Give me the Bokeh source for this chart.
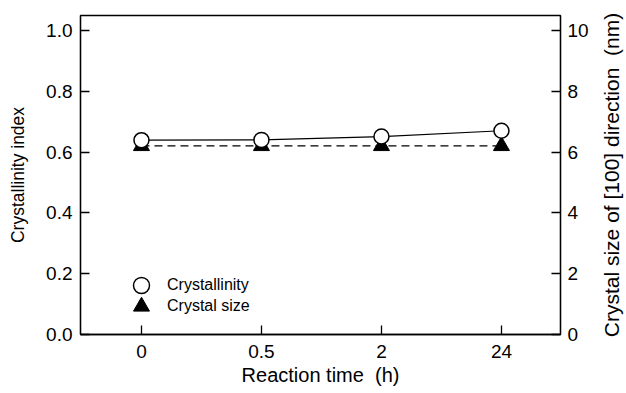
from bokeh.plotting import figure
from bokeh.layouts import row
from bokeh.models import (Range1d, LinearAxis, FixedTicker, Legend, LegendItem)
from bokeh.embed import file_html
from bokeh.resources import INLINE

times = ["0", "0.5", "2", "24"]
crystallinity = [0.639, 0.640, 0.651, 0.670]
crystal_size = [6.2, 6.2, 6.2, 6.2]
y_ticks = [0.0, 0.2, 0.4, 0.6, 0.8, 1.0]
y2_ticks = [0, 2, 4, 6, 8, 10]

xi = list(range(len(times)))
FONT = "Liberation Sans"

p = figure(width=596, height=393, output_backend="svg", toolbar_location=None,
           x_range=Range1d(-0.508, 3.492), y_range=Range1d(0, 1.049),
           min_border_left=80, min_border_right=36, min_border_top=15, min_border_bottom=59)
p.extra_y_ranges = {"size": Range1d(0, 10.49)}
p.grid.visible = False
p.outline_line_color = "black"
p.outline_line_width = 1.3
p.background_fill_color = "white"
p.border_fill_color = "white"

# crystal size (right axis)
p.line(xi, crystal_size, y_range_name="size", line_color="black", line_width=1.2, line_dash="8 5")
r_tri = p.scatter(xi, crystal_size, y_range_name="size", marker="triangle", size=16,
                  fill_color="black", line_color="black", line_width=1)
# crystallinity
p.line(xi, crystallinity, line_color="black", line_width=1.2)
r_circ = p.scatter(xi, crystallinity, marker="circle", size=15, fill_color="white",
                   line_color="black", line_width=1.5)

def style(ax, label_size):
    ax.axis_line_color = "black"
    ax.axis_line_width = 1.3
    ax.major_tick_line_color = "black"
    ax.major_tick_line_width = 1.3
    ax.major_tick_in = 9
    ax.major_tick_out = 0
    ax.minor_tick_line_color = None
    ax.major_label_text_font = FONT
    ax.major_label_text_font_size = "19px"
    ax.major_label_text_color = "black"
    ax.axis_label_text_font = FONT
    ax.axis_label_text_font_style = "normal"
    ax.axis_label_text_font_size = label_size
    ax.axis_label_text_color = "black"

xa = p.xaxis[0]
xa.ticker = FixedTicker(ticks=xi)
xa.major_label_overrides = {i: t for i, t in enumerate(times)}
xa.axis_label = "Reaction time\u00a0 (h)"
style(xa, "20px")
xa.major_label_standoff = 10
xa.axis_label_standoff = 3

ya = p.yaxis[0]
ya.ticker = FixedTicker(ticks=y_ticks)
ya.axis_label = "Crystallinity index"
ya.major_label_overrides = {v: f"{v:.1f}" for v in y_ticks}
style(ya, "17.5px")
ya.major_label_standoff = 8
ya.axis_label_standoff = 15

ra = LinearAxis(y_range_name="size", ticker=FixedTicker(ticks=y2_ticks))
style(ra, "20px")
ra.major_label_standoff = 7
p.add_layout(ra, "right")

common = dict(padding=0, margin=0, spacing=0, glyph_width=40, glyph_height=40,
              label_height=40, label_standoff=6, border_line_color=None,
              background_fill_alpha=0, label_text_font=FONT, label_text_font_size="16px",
              label_text_color="black")
leg1 = Legend(items=[LegendItem(label="Crystallinity", renderers=[r_circ])],
              location=(41, 29), **common)
leg2 = Legend(items=[LegendItem(label="Crystal size", renderers=[r_tri])],
              location=(41, 8), **common)
p.add_layout(leg1)
p.add_layout(leg2)

# narrow companion figure carrying the right-hand axis title (reads bottom-to-top)
p2 = figure(width=30, height=393, output_backend="svg", toolbar_location=None,
            x_range=Range1d(0, 1), y_range=Range1d(0, 1),
            min_border_left=0, min_border_right=0, min_border_top=15, min_border_bottom=59)
p2.grid.visible = False
p2.xaxis.visible = False
p2.outline_line_color = None
p2.background_fill_color = "white"
p2.border_fill_color = "white"
a2 = p2.yaxis[0]
a2.ticker = FixedTicker(ticks=[])
a2.axis_line_color = None
a2.major_tick_line_color = None
a2.minor_tick_line_color = None
a2.major_tick_in = 0
a2.major_tick_out = 0
a2.major_label_text_font_size = "1px"
a2.major_label_standoff = 0
a2.axis_label = "Crystal size of [100] direction\u00a0 (nm)"
a2.axis_label_standoff = 0
a2.axis_label_text_font = FONT
a2.axis_label_text_font_style = "normal"
a2.axis_label_text_font_size = "21px"
a2.axis_label_text_color = "black"

layout = row(p, p2)
open("out.html", "w").write(file_html(layout, INLINE))
